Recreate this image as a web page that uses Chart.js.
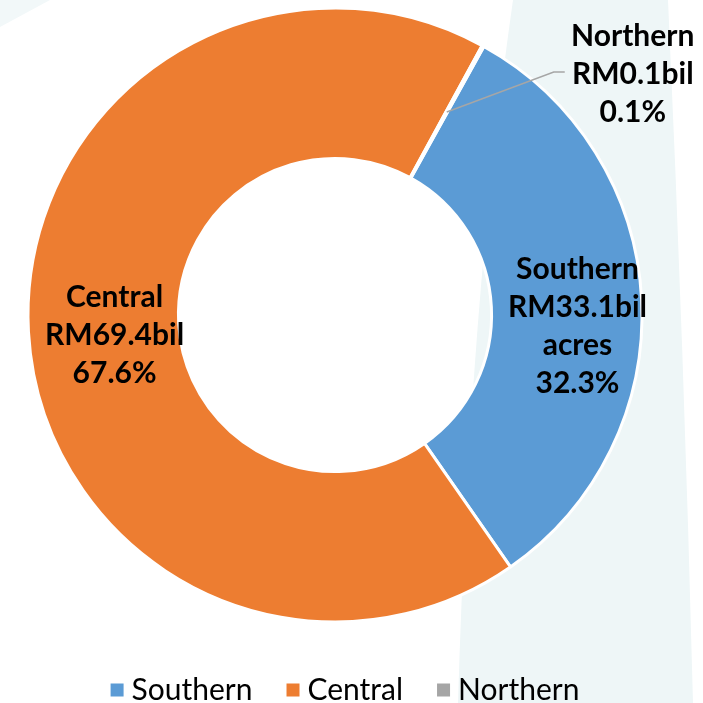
<!DOCTYPE html>
<html>
<head>
<meta charset="utf-8">
<script src="https://cdn.jsdelivr.net/npm/chart.js@4"></script>
<style>
  html, body { margin: 0; padding: 0; background: #ffffff; }
  #wrap { width: 703px; height: 703px; position: relative; }
</style>
</head>
<body>
<div id="wrap"><canvas id="regionChart" width="703" height="703"></canvas></div>
<script>
document.addEventListener("DOMContentLoaded", function () {
  const regions = ["Southern", "Central", "Northern"];
  const valuesBil = [33.1, 69.4, 0.1];
  const extraLine = ["acres", "", ""];
  const colors = ["#5B9BD5", "#ED7D31", "#A5A5A5"];

  const total = valuesBil.reduce((a, b) => a + b, 0);

  // label nudges relative to the slice centre, and the outside label for the tiny slice
  const labelShift = [
    { dx: 11, dy: 23 },
    { dx: 11, dy: 8 },
    { outside: true, elbowDx: 107, elbowDy: -40, tail: 11 },
  ];

  const backdrop = {
    id: "backdrop",
    beforeDraw(chart) {
      const c = chart.ctx;
      c.save();
      c.fillStyle = "#EEF6F7";
      c.beginPath();
      c.moveTo(513, 0);
      c.lineTo(668, 0);
      c.quadraticCurveTo(684, 350, 693, 703);
      c.lineTo(458, 703);
      c.quadraticCurveTo(470, 300, 513, 0);
      c.closePath();
      c.fill();
      c.fillStyle = "#F2F8F9";
      c.beginPath();
      c.moveTo(0, 0);
      c.lineTo(50, 0);
      c.lineTo(0, 27);
      c.closePath();
      c.fill();
      c.restore();
    },
  };

  const sliceLabels = {
    id: "sliceLabels",
    afterDatasetsDraw(chart) {
      const c = chart.ctx;
      const arcs = chart.getDatasetMeta(0).data;
      c.save();
      c.font = "bold 30px Lato";
      c.fillStyle = "#000000";
      c.textAlign = "center";
      c.textBaseline = "middle";
      arcs.forEach((arc, i) => {
        const pos = arc.tooltipPosition();
        const pct = ((valuesBil[i] / total) * 100).toFixed(1) + "%";
        const lines = [regions[i], "RM" + valuesBil[i] + "bil"];
        if (extraLine[i]) lines.push(extraLine[i]);
        lines.push(pct);
        const s = labelShift[i];
        let cx, cy;
        if (s.outside) {
          const ex = pos.x + s.elbowDx;
          const ey = pos.y + s.elbowDy;
          c.strokeStyle = "#A6A6A6";
          c.lineWidth = 1.5;
          c.beginPath();
          c.moveTo(pos.x, pos.y);
          c.lineTo(ex, ey);
          c.lineTo(ex + s.tail, ey);
          c.stroke();
          cx = ex + s.tail + 68;
          cy = ey + 2;
        } else {
          cx = pos.x + s.dx;
          cy = pos.y + s.dy;
        }
        const lh = 38;
        const top = cy - ((lines.length - 1) * lh) / 2;
        lines.forEach((t, k) => c.fillText(t, cx, top + k * lh));
      });
      c.restore();
    },
  };

  const bottomLegend = {
    id: "bottomLegend",
    afterDraw(chart) {
      const c = chart.ctx;
      const ds = chart.data.datasets[0];
      c.save();
      c.font = "30px Lato";
      c.textBaseline = "middle";
      c.textAlign = "left";
      const box = 13, gapText = 8, gapItem = 34;
      const widths = chart.data.labels.map((l) => box + gapText + c.measureText(l).width);
      const full = widths.reduce((a, b) => a + b, 0) + gapItem * (widths.length - 1);
      let x = 345 - full / 2;
      const y = 690;
      chart.data.labels.forEach((l, i) => {
        c.fillStyle = ds.backgroundColor[i];
        c.fillRect(x, y - box / 2, box, box);
        c.fillStyle = "#000000";
        c.fillText(l, x + box + gapText, y);
        x += widths[i] + gapItem;
      });
      c.restore();
    },
  };

  const ctx = document.getElementById("regionChart").getContext("2d");
  new Chart(ctx, {
    type: "doughnut",
    data: {
      labels: regions,
      datasets: [
        {
          data: valuesBil,
          backgroundColor: colors,
          borderColor: "#FFFFFF",
          borderWidth: 3,
          hoverOffset: 0,
        },
      ],
    },
    options: {
      responsive: false,
      animation: false,
      rotation: 29,
      cutout: "51%",
      layout: {
        padding: { left: 26.5, right: 59.5, top: 6.5, bottom: 79.5 },
      },
      plugins: {
        legend: { display: false },
        tooltip: { enabled: false },
      },
    },
    plugins: [backdrop, sliceLabels, bottomLegend],
  });
});
</script>
</body>
</html>
